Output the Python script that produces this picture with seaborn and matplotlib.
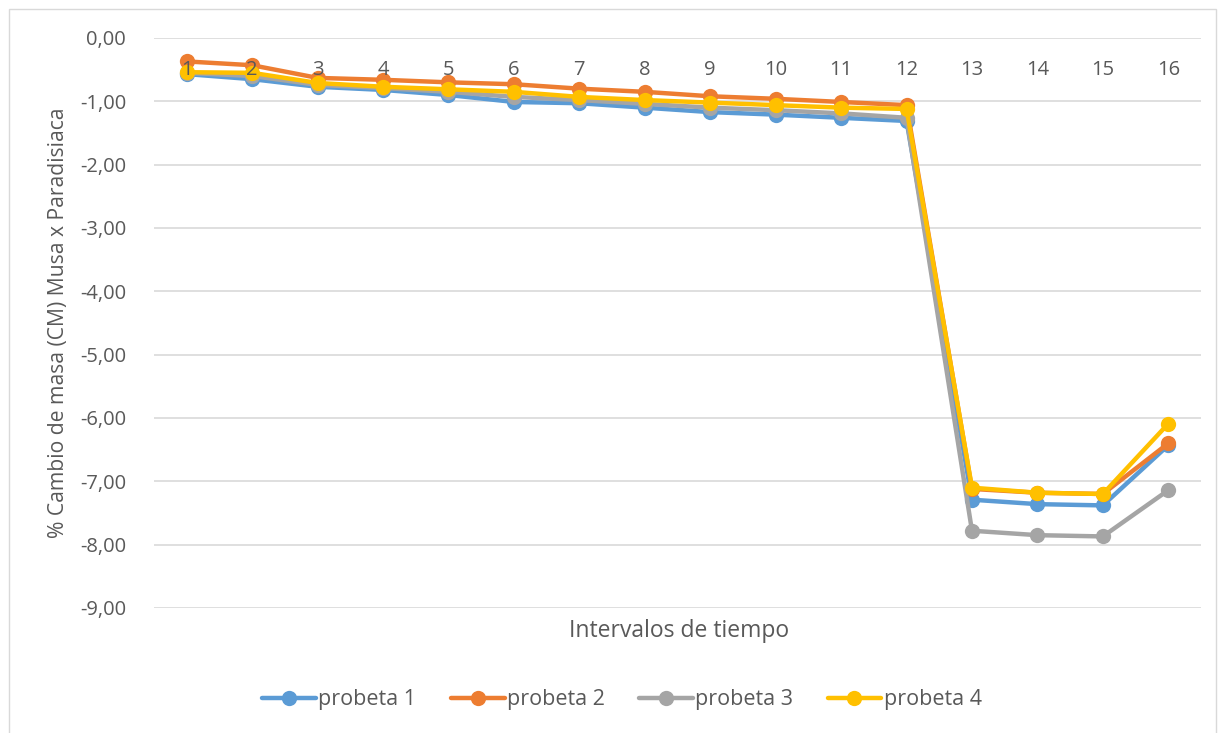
import numpy as np
import pandas as pd
import matplotlib
matplotlib.use("Agg")
import matplotlib.pyplot as plt
import matplotlib.patches as mpatches
import seaborn as sns

intervalos = list(range(1, 17))
probeta_1 = [-0.57, -0.65, -0.77, -0.82, -0.90, -1.01, -1.03, -1.10, -1.17, -1.21, -1.26, -1.31,
             -7.29, -7.36, -7.38, -6.43]
probeta_2 = [-0.37, -0.43, -0.63, -0.66, -0.70, -0.73, -0.80, -0.85, -0.92, -0.96, -1.01, -1.06,
             -7.12, -7.18, -7.20, -6.40]
probeta_3 = [-0.55, -0.60, -0.74, -0.79, -0.85, -0.93, -0.98, -1.04, -1.10, -1.14, -1.19, -1.26,
             -7.78, -7.85, -7.87, -7.14]
probeta_4 = [-0.54, -0.55, -0.71, -0.77, -0.81, -0.85, -0.93, -0.98, -1.02, -1.06, -1.10, -1.12,
             -7.10, -7.18, -7.20, -6.09]
series_names = ["probeta 1", "probeta 2", "probeta 3", "probeta 4"]
colores = ["#5B9BD5", "#ED7D31", "#A5A5A5", "#FFC000"]
y_ticks = [0, -1, -2, -3, -4, -5, -6, -7, -8, -9]

df = pd.DataFrame({
    "intervalo": intervalos * 4,
    "cm": probeta_1 + probeta_2 + probeta_3 + probeta_4,
    "serie": sum([[n] * len(intervalos) for n in series_names], []),
})

sns.set_theme(style="white")
plt.rcParams["font.family"] = ["Open Sans", "DejaVu Sans"]
texto = "#595959"

fig = plt.figure(figsize=(12.24, 7.33), dpi=100)
ax = fig.add_axes([154 / 1224, (733 - 608) / 733, 1047 / 1224, 570 / 733])

sns.lineplot(data=df, x="intervalo", y="cm", hue="serie", hue_order=series_names,
             palette=colores, marker="o", markersize=11, markeredgewidth=0,
             linewidth=3.2, ax=ax, legend=False, zorder=3)

ax.set_xlim(0.5, 16.5)
ax.set_ylim(-9, 0)
ax.set_yticks(y_ticks)
ax.set_yticklabels([f"{v:.2f}".replace(".", ",") for v in y_ticks])
ax.set_xticks(intervalos)
ax.set_xticklabels([str(i) for i in intervalos])
ax.xaxis.set_ticks_position("top")
ax.tick_params(axis="x", top=False, bottom=False, labeltop=True, labelbottom=False,
               pad=-36, labelsize=14.5, colors=texto)
ax.tick_params(axis="y", left=False, pad=14, labelsize=14.5, colors=texto)
ax.grid(axis="y", color="#D9D9D9", linewidth=1.2)
ax.grid(axis="x", visible=False)
for s in ax.spines.values():
    s.set_visible(False)
ax.set_axisbelow(True)
# category labels sit on top of the lines, as in the axis crossing at zero
ax.xaxis.set_zorder(5)

ax.set_xlabel("")
ax.set_ylabel("% Cambio de masa (CM) Musa x Paradisiaca", fontsize=15.2, color=texto, labelpad=8)
fig.text(679 / 1224, 1 - 631 / 733, "Intervalos de tiempo", fontsize=16.5, color=texto,
         ha="center", va="center")

handles = [plt.Line2D([], [], color=c, linewidth=3.2, marker="o", markersize=11,
                      markeredgewidth=0) for c in colores]
fig.legend(handles, series_names, loc="center", bbox_to_anchor=(622 / 1224, 1 - 700 / 733),
           ncol=4, frameon=False, fontsize=15.5, labelcolor=texto, handlelength=2.5,
           handletextpad=0.1, columnspacing=1.6)

fig.patches.append(mpatches.Rectangle((9 / 1224, -0.01), 1207 / 1224, 1 - 9 / 733 + 0.01,
                                      transform=fig.transFigure, fill=False,
                                      edgecolor="#D9D9D9", linewidth=1))

fig.savefig("out.png", dpi=100, facecolor="white")
